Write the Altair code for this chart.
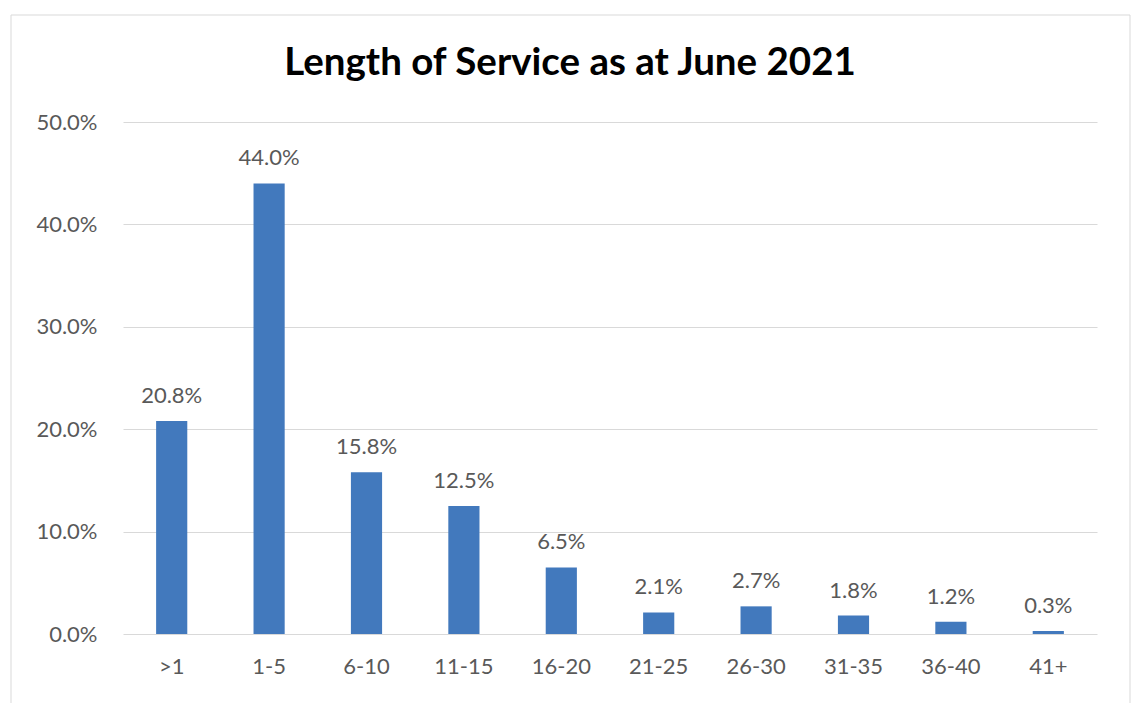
import altair as alt
import pandas as pd

categories = [">1", "1-5", "6-10", "11-15", "16-20", "21-25", "26-30", "31-35", "36-40", "41+"]
values = [20.8, 44.0, 15.8, 12.5, 6.5, 2.1, 2.7, 1.8, 1.2, 0.3]
labels = ["20.8%", "44.0%", "15.8%", "12.5%", "6.5%", "2.1%", "2.7%", "1.8%", "1.2%", "0.3%"]
title_text = ["Length of Service as at June 2021"]

df = pd.DataFrame({"cat": categories, "val": [v / 100 for v in values], "lab": labels})
tdf = pd.DataFrame({"t": title_text})

FONT = "Lato"
GREY = "#595959"

x = alt.X("cat:N", sort=categories, title=None,
          scale=alt.Scale(paddingInner=0.68, paddingOuter=0.34),
          axis=alt.Axis(labelAngle=0, labelFont=FONT, labelFontSize=22, labelColor=GREY,
                        ticks=False, domain=False, labelPadding=22, grid=False))
y = alt.Y("val:Q", title=None,
          scale=alt.Scale(domain=[0, 0.5]),
          axis=alt.Axis(format=".1%", values=[0, 0.1, 0.2, 0.3, 0.4, 0.5],
                        labelFont=FONT, labelFontSize=22, labelColor=GREY,
                        ticks=False, domain=False, labelPadding=26,
                        grid=True, gridColor="#d9d9d9", gridWidth=1))

bars = alt.Chart(df).mark_bar(color="#4279BD").encode(x=x, y=y)
text = alt.Chart(df).mark_text(font=FONT, fontSize=22, color=GREY, baseline="alphabetic", dy=-18).encode(
    x=alt.X("cat:N", sort=categories), y="val:Q", text="lab:N")

border = alt.Chart(tdf).mark_rect(fill=None, stroke="#d9d9d9", strokeWidth=1).encode(
    x=alt.value(-112), x2=alt.value(1007), y=alt.value(-107), y2=alt.value(590))

title = alt.Chart(tdf).mark_text(font=FONT, fontSize=38.5, fontWeight="bold", color="#000000",
                                 align="center", baseline="alphabetic").encode(
    x=alt.value(447), y=alt.value(-47), text="t:N")

chart = alt.layer(border, bars, text, title).properties(
    width=974, height=512,
    background="white",
    autosize=alt.AutoSizeParams(type="none"),
    padding={"left": 123, "top": 122, "right": 35, "bottom": 69},
).configure_view(strokeWidth=0, stroke="transparent")

chart.save("out.html", embed_options={"renderer": "svg", "actions": False})
